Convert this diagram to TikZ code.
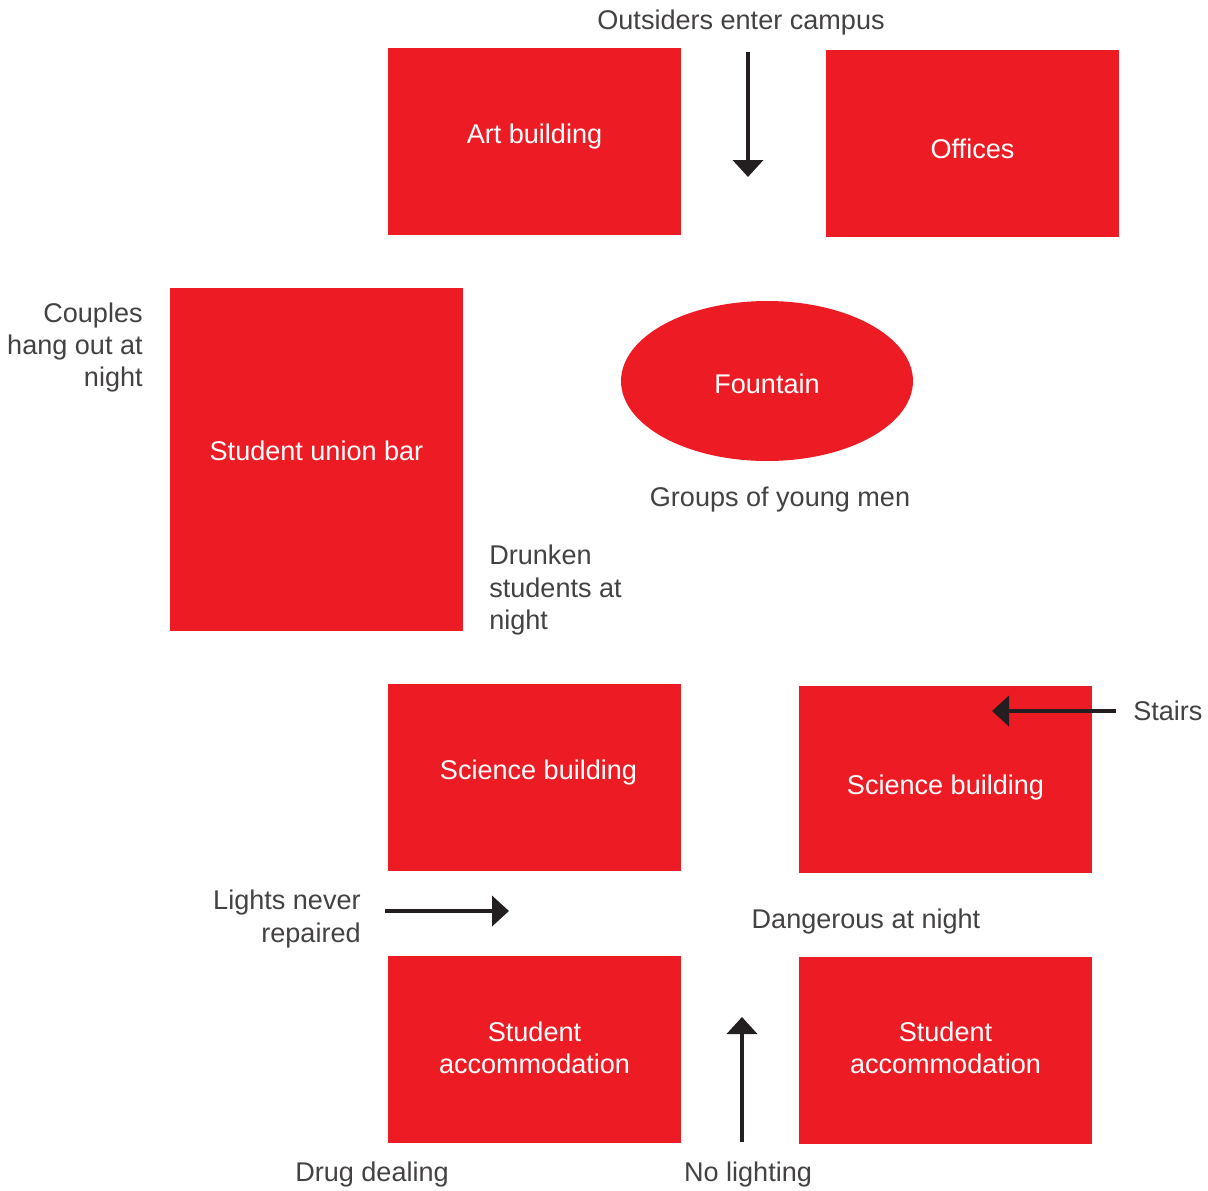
\documentclass[tikz,border=0pt]{standalone}
\usepackage{fontspec}
\setmainfont{Liberation Sans}
\usetikzlibrary{arrows.meta,shapes.geometric}
\definecolor{mapred}{HTML}{ED1C24}
\definecolor{inkdark}{HTML}{231F20}

\begin{document}
\begin{tikzpicture}[
    x=0.02cm, y=-0.02cm,
    font=\fontsize{15.4}{18.4}\selectfont,
    block/.style={fill=mapred, minimum width=5.86cm, minimum height=3.74cm, inner sep=0pt},
    pool/.style={ellipse, fill=mapred, minimum width=5.84cm, minimum height=3.2cm, inner sep=0pt},
    tag/.style={text=white, align=center, inner sep=0pt},
    note/.style={text=inkdark!85, inner sep=0pt},
    line/.style={-{Triangle[width=0.6cm, length=0.34cm]}, line width=0.08cm, draw=inkdark}
]
    \useasboundingbox (0,0) rectangle (1208,1191);

    % buildings
    \node[block, label={[tag, yshift=0.1cm]center:Art building}] (art) at (534.5,141.5) {};
    \node[block, label={[tag, yshift=-0.1cm]center:Offices}] (offices) at (972.5,143.5) {};
    \node[block, minimum height=6.86cm, label={[tag, yshift=0.18cm]center:Student union bar}] (bar) at (316.5,459.5) {};
    \node[pool, label={[tag, yshift=-0.06cm]center:Fountain}] (fountain) at (767,381) {};
    \node[block, label={[tag, xshift=0.08cm, yshift=0.1cm]center:Science building}] (science1) at (534.5,777.5) {};
    \node[block, label={[tag, yshift=-0.16cm]center:Science building}] (science2) at (945.5,779.5) {};
    \node[block, label={[tag, yshift=0.04cm]center:Student\\accommodation}] (accom1) at (534.5,1049.5) {};
    \node[block, label={[tag, yshift=0.06cm]center:Student\\accommodation}] (accom2) at (945.5,1050.5) {};

    % labels
    \node[note] (outsiders) at (741,22) {Outsiders enter campus};
    \node[note, align=right, anchor=east] (couples) at (143,347.5) {Couples\\hang out at\\night};
    \node[note] (groups) at (780,500) {Groups of young men};
    \node[note, align=left, anchor=west] (drunken) at (489,590) {Drunken\\students at\\night};
    \node[note, anchor=west] (stairs) at (1133,711) {Stairs};
    \node[note, align=right, anchor=east] (lights) at (361,919) {Lights never\\repaired};
    \node[note] (dangerous) at (866,921) {Dangerous at night};
    \node[note] (drugs) at (372,1174) {Drug dealing};
    \node[note] (nolight) at (748,1174) {No lighting};

    % arrows
    \coordinate (enter-a) at (748,52);
    \coordinate (enter-b) at (748,177);
    \coordinate (stairs-a) at (1116,711);
    \coordinate (stairs-b) at (992,711);
    \coordinate (lights-a) at (385,911);
    \coordinate (lights-b) at (509,911);
    \coordinate (dark-a) at (742,1142);
    \coordinate (dark-b) at (742,1017);

    \draw[line] (enter-a) -- (enter-b);
    \draw[line] (stairs-a) -- (stairs-b);
    \draw[line] (lights-a) -- (lights-b);
    \draw[line] (dark-a) -- (dark-b);
\end{tikzpicture}
\end{document}
